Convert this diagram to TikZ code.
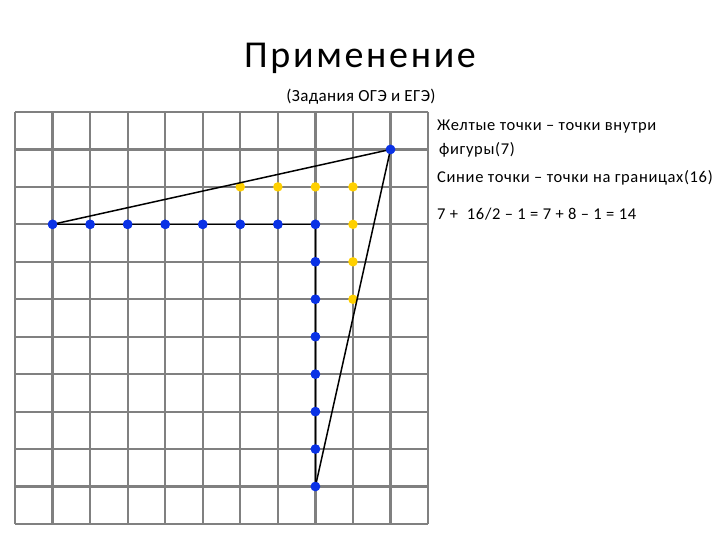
\documentclass[tikz,border=0pt]{standalone}
\usepackage{fontspec}
\setmainfont{Carlito}
\newfontfamily\titlefont[LetterSpace=7]{Carlito}
\newfontfamily\subfont[LetterSpace=2]{Carlito}
\newfontfamily\bodyfont[LetterSpace=4]{Carlito}
\definecolor{gridgray}{RGB}{128,128,128}
\definecolor{dotblue}{RGB}{10,50,230}
\definecolor{dotyellow}{RGB}{255,208,0}
\begin{document}
\begin{tikzpicture}[x=1pt,y=-1pt,
  gridline/.style={draw=gridgray,line width=2.2pt},
  edge/.style={draw=black,line width=1.5pt},
  bdot/.style={circle,fill=dotblue,inner sep=0pt,minimum size=9.5pt},
  ydot/.style={circle,fill=dotyellow,inner sep=0pt,minimum size=9.5pt},
  txt/.style={anchor=base west,inner sep=0pt,font=\bodyfont\fontsize{16.5}{18}\selectfont}]
\useasboundingbox (0,0) rectangle (720,540);
\fill[white] (0,0) rectangle (720,540);
% grid
\foreach \i in {0,...,11}{
  \draw[gridline] ({15+37.55*\i},112) -- ({15+37.55*\i},524);
  \draw[gridline] (15,{112+37.45*\i}) -- (428,{112+37.45*\i});
}
\foreach \i in {0,...,11}{
  \foreach \j in {0,...,11}{
    \coordinate (c-\i-\j) at ({15+37.55*\i},{112+37.45*\j});
  }
}
% blue dots
\node[bdot] (b1) at (c-1-3) {};
\node[bdot] (b2) at (c-2-3) {};
\node[bdot] (b3) at (c-3-3) {};
\node[bdot] (b4) at (c-4-3) {};
\node[bdot] (b5) at (c-5-3) {};
\node[bdot] (b6) at (c-6-3) {};
\node[bdot] (b7) at (c-7-3) {};
\node[bdot] (b8) at (c-8-3) {};
\node[bdot] (b9) at (c-8-4) {};
\node[bdot] (b10) at (c-8-5) {};
\node[bdot] (b11) at (c-8-6) {};
\node[bdot] (b12) at (c-8-7) {};
\node[bdot] (b13) at (c-8-8) {};
\node[bdot] (b14) at (c-8-9) {};
\node[bdot] (b15) at (c-8-10) {};
\node[bdot] (b16) at (c-10-1) {};
% yellow dots
\node[ydot] (y1) at (c-6-2) {};
\node[ydot] (y2) at (c-7-2) {};
\node[ydot] (y3) at (c-8-2) {};
\node[ydot] (y4) at (c-9-2) {};
\node[ydot] (y5) at (c-9-3) {};
\node[ydot] (y6) at (c-9-4) {};
\node[ydot] (y7) at (c-9-5) {};
% edges
\draw[edge] (b1.center) -- (b16.center) -- (b15.center);
\draw[edge] (b1.center) -- (b8.center) -- (b15.center);
% keep dots on top of the edges
\foreach \n in {b1,b2,b3,b4,b5,b6,b7,b8,b9,b10,b11,b12,b13,b14,b15,b16}{
  \fill[dotblue] (\n) circle (4.75pt);
}
% texts
\node[anchor=base,inner sep=0pt,font=\titlefont\fontsize{38}{40}\selectfont] (title) at (360,68) {Применение};
\node[anchor=base,inner sep=0pt,font=\subfont\fontsize{17}{18}\selectfont] (sub) at (361,102) {(Задания ОГЭ и ЕГЭ)};
\node[txt] (t1) at (437,131) {Желтые точки – точки внутри};
\node[txt] (t2) at (439,155) {фигуры(7)};
\node[txt] (t3) at (437,183) {Синие точки – точки на границах(16)};
\node[txt] (t4) at (437,220) {7 +\ \ 16/2 – 1 = 7 + 8 – 1 = 14};
\end{tikzpicture}
\end{document}
